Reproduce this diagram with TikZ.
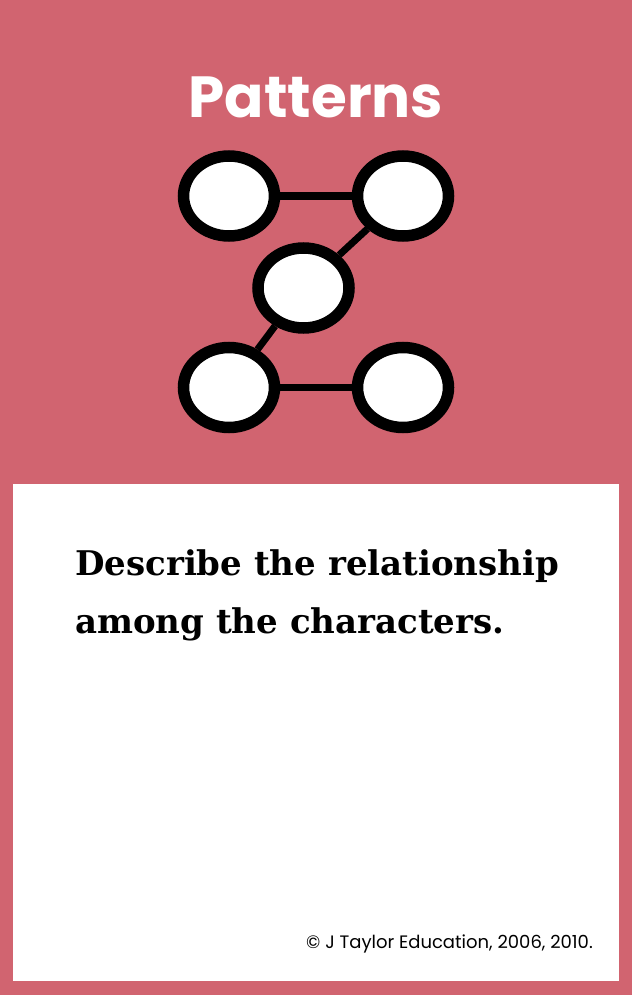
\documentclass[tikz,border=0pt]{standalone}
\usepackage{fontspec}
\setmainfont{DejaVu Serif}
\newfontfamily\titlefont{Poppins}
\newfontfamily\notefont{Poppins}
\usetikzlibrary{shapes.geometric}
\definecolor{cardred}{HTML}{D16470}
\tikzstyle{character}=[draw, ellipse, fill=white, line width=11.5pt, minimum width=91pt, minimum height=80pt, inner sep=0pt]
\tikzstyle{link}=[line width=7pt]
\tikzstyle{question}=[anchor=base west, inner sep=0pt, font=\bfseries\fontsize{34}{46}\selectfont]

\begin{document}
\begin{tikzpicture}[x=1pt, y=-1pt]
  \fill[cardred] (0,0) rectangle (632,995);
  \fill[white] (13,484) rectangle (619,981);
  \node[text=white, anchor=base, inner sep=0pt, font=\titlefont\bfseries\fontsize{58}{58}\selectfont] (title) at (316,118) {Patterns};
  \node[character] (topleft) at (229,196) {};
  \node[character] (topright) at (403,196) {};
  \node[character] (middle) at (303.5,288) {};
  \node[character] (bottomleft) at (229,387.5) {};
  \node[character] (bottomright) at (403,387.5) {};
  \draw[link] (topleft) -- (topright);
  \draw[link] (topright) -- (middle);
  \draw[link] (middle) -- (bottomleft);
  \draw[link] (bottomleft) -- (bottomright);
  \node[question] (line1) at (75,575) {Describe the relationship};
  \node[question] (line2) at (75,633) {among the characters.};
  \node[anchor=base east, inner sep=0pt, font=\notefont\fontsize{18}{18}\selectfont] (copyright) at (593,948) {© J Taylor Education, 2006, 2010.};
\end{tikzpicture}
\end{document}
